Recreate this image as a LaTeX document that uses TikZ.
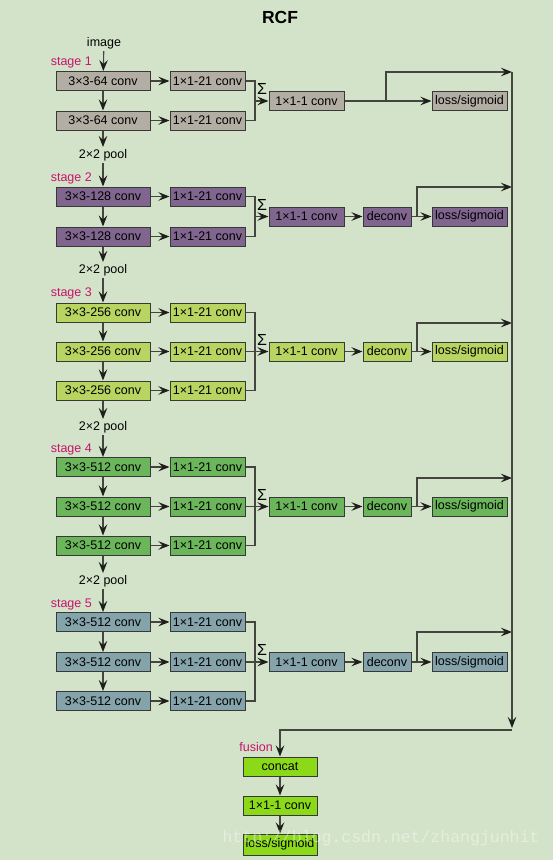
\documentclass[tikz,border=0pt]{standalone}
\usepackage{fontspec}
\setmainfont{Liberation Sans}
\newfontfamily\wmfont{Liberation Mono}
\usetikzlibrary{arrows.meta}

\definecolor{bgcol}{HTML}{D3E3C9}
\definecolor{sone}{HTML}{B3AEA4}
\definecolor{stwo}{HTML}{80668F}
\definecolor{sthree}{HTML}{B8D562}
\definecolor{sfour}{HTML}{6BB55B}
\definecolor{sfive}{HTML}{84A3AA}
\definecolor{fuse}{HTML}{8CD91A}
\definecolor{stagecol}{HTML}{C8136E}
\definecolor{linecol}{HTML}{45453F}
\definecolor{tipcol}{HTML}{1E1E1A}

\begin{document}
\begin{tikzpicture}[x=1pt, y=-1pt,
  box/.style={draw=black!78, line width=1pt, inner sep=0pt, minimum height=19pt,
    font=\fontsize{12.5}{14}\selectfont},
  bigbox/.style={box, minimum width=94pt},
  smallbox/.style={box, minimum width=75pt},
  decbox/.style={box, minimum width=48pt},
  lbl/.style={font=\fontsize{12.5}{14}\selectfont, inner sep=2pt},
  stagelbl/.style={lbl, text=stagecol, anchor=east, inner sep=0pt},
  sumlbl/.style={font=\fontsize{16}{18}\selectfont, inner sep=0pt},
  arr/.style={-{Stealth[length=11pt,width=8.5pt,inset=4pt,color=tipcol]}, draw=linecol, line width=1.1pt},
  ln/.style={draw=linecol, line width=1.1pt}]
  \fill[bgcol] (0,0) rectangle (553,860);
  \node[font=\bfseries\fontsize{17.5}{20}\selectfont] (title) at (280,17) {RCF};

  % stage 1
  \node[lbl] (img) at (104,43) {image};
  \node[stagelbl] (st1) at (92,62) {stage 1};
  \node[bigbox, fill=sone] (c11) at (103,81) {3×3-64 conv};
  \node[bigbox, fill=sone] (c12) at (103,120.5) {3×3-64 conv};
  \node[smallbox, fill=sone] (s11) at (207.5,81) {1×1-21 conv};
  \node[smallbox, fill=sone] (s12) at (207.5,120.5) {1×1-21 conv};
  \coordinate (j1) at (255,101);
  \node[sumlbl] (sig1) at (262,89) {Σ};
  \node[smallbox, fill=sone] (f1) at (306.5,101) {1×1-1 conv};
  \node[smallbox, fill=sone] (l1) at (469.5,101) {loss/sigmoid};
  \coordinate (b1) at (386,101);
  \coordinate (r1) at (512,72);
  \draw[arr] (img) -- (c11);
  \draw[arr] (c11) -- (c12);
  \draw[arr] (c11) -- (s11);
  \draw[arr] (c12) -- (s12);
  \draw[ln] (s11.east) -| (j1) |- (s12.east);
  \draw[arr] (j1) -- (f1);
  \draw[arr] (f1) -- (l1);
  \draw[arr] (b1) |- (r1);
  \node[lbl] (p1) at (103,155) {2×2 pool};
  \draw[arr] (c12) -- (p1);

  % stage 2
  \node[stagelbl] (st2) at (92,178) {stage 2};
  \node[bigbox, fill=stwo] (c21) at (103,196.5) {3×3-128 conv};
  \node[bigbox, fill=stwo] (c22) at (103,236.5) {3×3-128 conv};
  \node[smallbox, fill=stwo] (s21) at (207.5,196.5) {1×1-21 conv};
  \node[smallbox, fill=stwo] (s22) at (207.5,236.5) {1×1-21 conv};
  \coordinate (j2) at (255,216.5);
  \node[sumlbl] (sig2) at (262,204.5) {Σ};
  \node[smallbox, fill=stwo] (f2) at (306.5,216.5) {1×1-1 conv};
  \node[decbox, fill=stwo] (d2) at (387,216.5) {deconv};
  \node[smallbox, fill=stwo] (l2) at (469.5,216.5) {loss/sigmoid};
  \coordinate (b2) at (417,216.5);
  \coordinate (r2) at (512,187);
  \draw[arr] (p1) -- (c21);
  \draw[arr] (c21) -- (c22);
  \draw[arr] (c21) -- (s21);
  \draw[arr] (c22) -- (s22);
  \draw[ln] (s21.east) -| (j2) |- (s22.east);
  \draw[arr] (j2) -- (f2);
  \draw[arr] (f2) -- (d2);
  \draw[arr] (d2) -- (l2);
  \draw[arr] (b2) |- (r2);
  \node[lbl] (p2) at (103,270) {2×2 pool};
  \draw[arr] (c22) -- (p2);

  % stage 3
  \node[stagelbl] (st3) at (92,293) {stage 3};
  \node[bigbox, fill=sthree] (c31) at (103,312.5) {3×3-256 conv};
  \node[bigbox, fill=sthree] (c32) at (103,351.5) {3×3-256 conv};
  \node[bigbox, fill=sthree] (c33) at (103,390.5) {3×3-256 conv};
  \node[smallbox, fill=sthree] (s31) at (207.5,312.5) {1×1-21 conv};
  \node[smallbox, fill=sthree] (s32) at (207.5,351.5) {1×1-21 conv};
  \node[smallbox, fill=sthree] (s33) at (207.5,390.5) {1×1-21 conv};
  \coordinate (j3) at (255,351.5);
  \node[sumlbl] (sig3) at (262,339.5) {Σ};
  \node[smallbox, fill=sthree] (f3) at (306.5,351.5) {1×1-1 conv};
  \node[decbox, fill=sthree] (d3) at (387,351.5) {deconv};
  \node[smallbox, fill=sthree] (l3) at (469.5,351.5) {loss/sigmoid};
  \coordinate (b3) at (417,351.5);
  \coordinate (r3) at (512,323);
  \draw[arr] (p2) -- (c31);
  \draw[arr] (c31) -- (c32);
  \draw[arr] (c32) -- (c33);
  \draw[arr] (c31) -- (s31);
  \draw[arr] (c32) -- (s32);
  \draw[arr] (c33) -- (s33);
  \draw[ln] (s31.east) -| (j3) |- (s33.east);
  \draw[arr] (s32) -- (f3);
  \draw[arr] (f3) -- (d3);
  \draw[arr] (d3) -- (l3);
  \draw[arr] (b3) |- (r3);
  \node[lbl] (p3) at (103,427) {2×2 pool};
  \draw[arr] (c33) -- (p3);

  % stage 4
  \node[stagelbl] (st4) at (92,449) {stage 4};
  \node[bigbox, fill=sfour] (c41) at (103,467) {3×3-512 conv};
  \node[bigbox, fill=sfour] (c42) at (103,506.5) {3×3-512 conv};
  \node[bigbox, fill=sfour] (c43) at (103,545.5) {3×3-512 conv};
  \node[smallbox, fill=sfour] (s41) at (207.5,467) {1×1-21 conv};
  \node[smallbox, fill=sfour] (s42) at (207.5,506.5) {1×1-21 conv};
  \node[smallbox, fill=sfour] (s43) at (207.5,545.5) {1×1-21 conv};
  \coordinate (j4) at (255,506.5);
  \node[sumlbl] (sig4) at (262,494.5) {Σ};
  \node[smallbox, fill=sfour] (f4) at (306.5,506.5) {1×1-1 conv};
  \node[decbox, fill=sfour] (d4) at (387,506.5) {deconv};
  \node[smallbox, fill=sfour] (l4) at (469.5,506.5) {loss/sigmoid};
  \coordinate (b4) at (417,506.5);
  \coordinate (r4) at (512,478);
  \draw[arr] (p3) -- (c41);
  \draw[arr] (c41) -- (c42);
  \draw[arr] (c42) -- (c43);
  \draw[arr] (c41) -- (s41);
  \draw[arr] (c42) -- (s42);
  \draw[arr] (c43) -- (s43);
  \draw[ln] (s41.east) -| (j4) |- (s43.east);
  \draw[arr] (s42) -- (f4);
  \draw[arr] (f4) -- (d4);
  \draw[arr] (d4) -- (l4);
  \draw[arr] (b4) |- (r4);
  \node[lbl] (p4) at (103,581) {2×2 pool};
  \draw[arr] (c43) -- (p4);

  % stage 5
  \node[stagelbl] (st5) at (92,604) {stage 5};
  \node[bigbox, fill=sfive] (c51) at (103,622) {3×3-512 conv};
  \node[bigbox, fill=sfive] (c52) at (103,662) {3×3-512 conv};
  \node[bigbox, fill=sfive] (c53) at (103,701) {3×3-512 conv};
  \node[smallbox, fill=sfive] (s51) at (207.5,622) {1×1-21 conv};
  \node[smallbox, fill=sfive] (s52) at (207.5,662) {1×1-21 conv};
  \node[smallbox, fill=sfive] (s53) at (207.5,701) {1×1-21 conv};
  \coordinate (j5) at (255,662);
  \node[sumlbl] (sig5) at (262,650) {Σ};
  \node[smallbox, fill=sfive] (f5) at (306.5,662) {1×1-1 conv};
  \node[decbox, fill=sfive] (d5) at (387,662) {deconv};
  \node[smallbox, fill=sfive] (l5) at (469.5,662) {loss/sigmoid};
  \coordinate (b5) at (417,662);
  \coordinate (r5) at (512,632);
  \draw[arr] (p4) -- (c51);
  \draw[arr] (c51) -- (c52);
  \draw[arr] (c52) -- (c53);
  \draw[arr] (c51) -- (s51);
  \draw[arr] (c52) -- (s52);
  \draw[arr] (c53) -- (s53);
  \draw[ln] (s51.east) -| (j5) |- (s53.east);
  \draw[arr] (s52) -- (f5);
  \draw[arr] (f5) -- (d5);
  \draw[arr] (d5) -- (l5);
  \draw[arr] (b5) |- (r5);

  % fusion: o barramento da direita desce e volta para a esquerda
  \coordinate (busend) at (512,728);
  \coordinate (turn) at (512,730);
  \draw[arr] (r1) -- (busend);
  \node[stagelbl] (fu) at (273,747) {fusion};
  \node[smallbox, minimum width=74pt, fill=fuse] (cat) at (280,766.5) {concat};
  \node[smallbox, minimum width=74pt, fill=fuse] (fc) at (280,805.5) {1×1-1 conv};
  \node[smallbox, minimum width=74pt, minimum height=21pt, fill=fuse] (fl) at (280,844.5) {loss/sigmoid};
  \draw[arr] (turn) -| (cat);
  \draw[arr] (cat) -- (fc);
  \draw[arr] (fc) -- (fl);

  % marca de água da imagem original, quase invisível
  \node[font=\wmfont\fontsize{16.5}{18}\selectfont, text=white, opacity=0.4] (wm) at (381,838) {http://blog.csdn.net/zhangjunhit};
\end{tikzpicture}
\end{document}
